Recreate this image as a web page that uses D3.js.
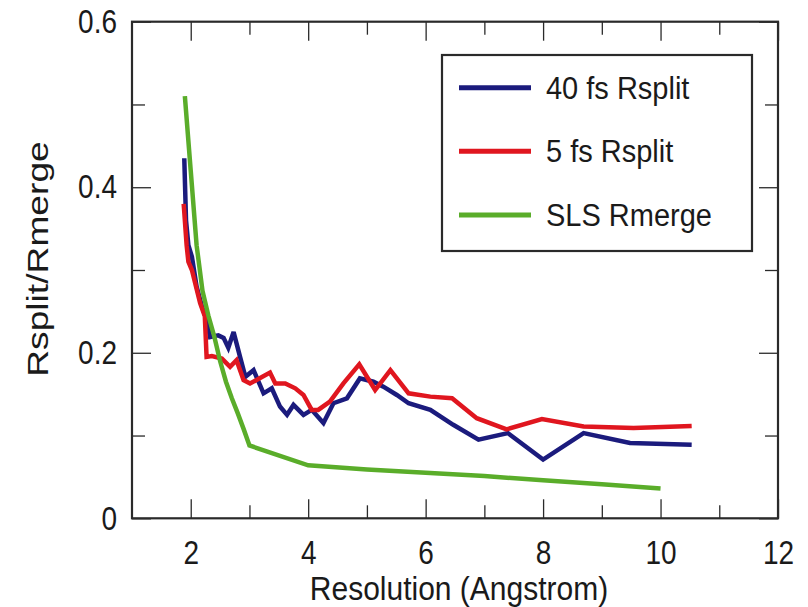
<!DOCTYPE html>
<html><head><meta charset="utf-8">
<script src="https://cdn.jsdelivr.net/npm/d3@7"></script>
<style>
body{margin:0;background:#fff}
text{font-family:"Liberation Sans",Arial,Helvetica,sans-serif;fill:#1a1a1a}
</style>
</head><body>
<svg id="chart" width="808" height="607"></svg>
<script>
// ---- data ----
const seriesNames = ["40 fs Rsplit", "5 fs Rsplit", "SLS Rmerge"];
const seriesColors = ["#1b1b7d", "#e0161f", "#5aad2a"];

const res40 = [1.89,1.92,1.96,2.02,2.10,2.19,2.27,2.33,2.47,2.56,2.64,2.73,2.84,2.93,3.07,3.24,3.38,3.52,3.64,3.75,3.92,4.06,4.26,4.43,4.66,4.88,5.11,5.28,5.51,5.71,6.08,6.47,6.90,7.40,8.00,8.69,9.48,10.53];
const val40 = [0.435,0.36,0.33,0.316,0.28,0.256,0.24,0.219,0.221,0.218,0.206,0.225,0.195,0.171,0.179,0.151,0.157,0.135,0.125,0.137,0.125,0.131,0.115,0.139,0.145,0.169,0.165,0.159,0.149,0.139,0.131,0.113,0.095,0.103,0.071,0.103,0.091,0.089];

const res5 = [1.88,1.93,1.96,2.02,2.16,2.24,2.27,2.36,2.53,2.67,2.78,2.90,3.01,3.12,3.35,3.44,3.61,3.78,3.92,4.06,4.17,4.37,4.60,4.87,5.14,5.40,5.71,6.08,6.45,6.87,7.38,7.98,8.69,9.54,10.53];
const val5 = [0.38,0.33,0.31,0.30,0.26,0.244,0.195,0.196,0.193,0.183,0.191,0.167,0.163,0.167,0.176,0.163,0.163,0.157,0.149,0.131,0.131,0.141,0.163,0.186,0.155,0.179,0.151,0.147,0.145,0.121,0.1075,0.12,0.111,0.109,0.1115];

const resSLS = [1.9,2.0,2.1,2.2,2.3,2.4,2.5,2.6,2.7,2.8,2.9,3.0,4,5,6,7,8,9,10];
const valSLS = [0.51,0.42,0.33,0.275,0.245,0.22,0.19,0.165,0.145,0.127,0.108,0.088,0.064,0.059,0.055,0.051,0.046,0.041,0.036];

const xMajorTicks = [2,4,6,8,10,12];
const xMinorTicks = [3,5,7,9,11];
const yMajorTicks = [0,0.2,0.4,0.6];
const yTickLabels = ["0","0.2","0.4","0.6"];
const yMinorTicks = [0.1,0.3,0.5];
const xTitle = "Resolution (Angstrom)";
const yTitle = "Rsplit/Rmerge";

// ---- layout ----
const L = 132, R = 778, T = 21.7, B = 518.3;
const svg = d3.select("#chart");
const x = d3.scaleLinear().domain([1,12]).range([L,R]);
const y = d3.scaleLinear().domain([0,0.6]).range([B,T]);

const axisColor = "#2a2a2a";
function styleAxis(g){
  g.select(".domain").remove();
  g.selectAll(".tick line").attr("stroke",axisColor).attr("stroke-width",1.3);
}
function styleText(g){
  g.selectAll("text").attr("font-size",28).attr("fill","#1a1a1a")
    .attr("font-family","Liberation Sans, Arial, sans-serif")
    .attr("transform","scale(1,1.2)");
}
const MAJ = 19, MIN = 13;
// bottom
svg.append("g").attr("transform",`translate(0,${B})`)
  .call(d3.axisBottom(x).tickValues(xMajorTicks).tickSizeInner(-MAJ).tickSizeOuter(0).tickPadding(18).tickFormat(d3.format("d")))
  .call(styleAxis).call(styleText);
svg.append("g").attr("transform",`translate(0,${B})`)
  .call(d3.axisBottom(x).tickValues(xMinorTicks).tickSizeInner(-MIN).tickSizeOuter(0).tickFormat(""))
  .call(styleAxis);
// top
svg.append("g").attr("transform",`translate(0,${T})`)
  .call(d3.axisTop(x).tickValues(xMajorTicks).tickSizeInner(-MAJ).tickSizeOuter(0).tickFormat(""))
  .call(styleAxis);
svg.append("g").attr("transform",`translate(0,${T})`)
  .call(d3.axisTop(x).tickValues(xMinorTicks).tickSizeInner(-MIN).tickSizeOuter(0).tickFormat(""))
  .call(styleAxis);
// left
svg.append("g").attr("transform",`translate(${L},0)`)
  .call(d3.axisLeft(y).tickValues(yMajorTicks).tickSizeInner(-MAJ).tickSizeOuter(0).tickPadding(15).tickFormat((d,i)=>yTickLabels[i]))
  .call(styleAxis).call(styleText);
svg.append("g").attr("transform",`translate(${L},0)`)
  .call(d3.axisLeft(y).tickValues(yMinorTicks).tickSizeInner(-MIN).tickSizeOuter(0).tickFormat(""))
  .call(styleAxis);
// right
svg.append("g").attr("transform",`translate(${R},0)`)
  .call(d3.axisRight(y).tickValues(yMajorTicks).tickSizeInner(-MAJ).tickSizeOuter(0).tickFormat(""))
  .call(styleAxis);
svg.append("g").attr("transform",`translate(${R},0)`)
  .call(d3.axisRight(y).tickValues(yMinorTicks).tickSizeInner(-MIN).tickSizeOuter(0).tickFormat(""))
  .call(styleAxis);

// frame
svg.append("rect").attr("x",L).attr("y",T).attr("width",R-L).attr("height",B-T)
  .attr("fill","none").attr("stroke",axisColor).attr("stroke-width",2.2);

// titles
svg.append("text").attr("transform",`translate(${(L+R)/2 + 4},600) scale(1,1.08)`).attr("text-anchor","middle")
  .attr("font-size",30).text(xTitle);
svg.append("text").attr("transform","translate(48,259) rotate(-90) scale(1.24,1)")
  .attr("text-anchor","middle").attr("font-size",30).text(yTitle);

// lines
const datasets = [
  res40.map((r,i)=>[r,val40[i]]),
  res5.map((r,i)=>[r,val5[i]]),
  resSLS.map((r,i)=>[r,valSLS[i]])
];
const line = d3.line().x(d=>x(d[0])).y(d=>y(d[1]));
datasets.forEach((ds,i)=>{
  svg.append("path").datum(ds).attr("d",line).attr("fill","none")
    .attr("stroke",seriesColors[i]).attr("stroke-width",4.5)
    .attr("stroke-linejoin","miter").attr("stroke-miterlimit",3).attr("stroke-linecap","butt");
});

// legend
const lg = svg.append("g");
lg.append("rect").attr("x",442).attr("y",55).attr("width",310).attr("height",196)
  .attr("fill","#fff").attr("stroke",axisColor).attr("stroke-width",2.2);
const legY = d3.scalePoint().domain(seriesNames).range([87.7,215]);
seriesNames.forEach((n,i)=>{
  lg.append("line").attr("x1",459).attr("x2",531).attr("y1",legY(n)).attr("y2",legY(n))
    .attr("stroke",seriesColors[i]).attr("stroke-width",5);
  lg.append("text").attr("transform",`translate(546,${legY(n)+11}) scale(1,1.05)`).attr("font-size",29).text(n);
});
</script>
</body></html>
